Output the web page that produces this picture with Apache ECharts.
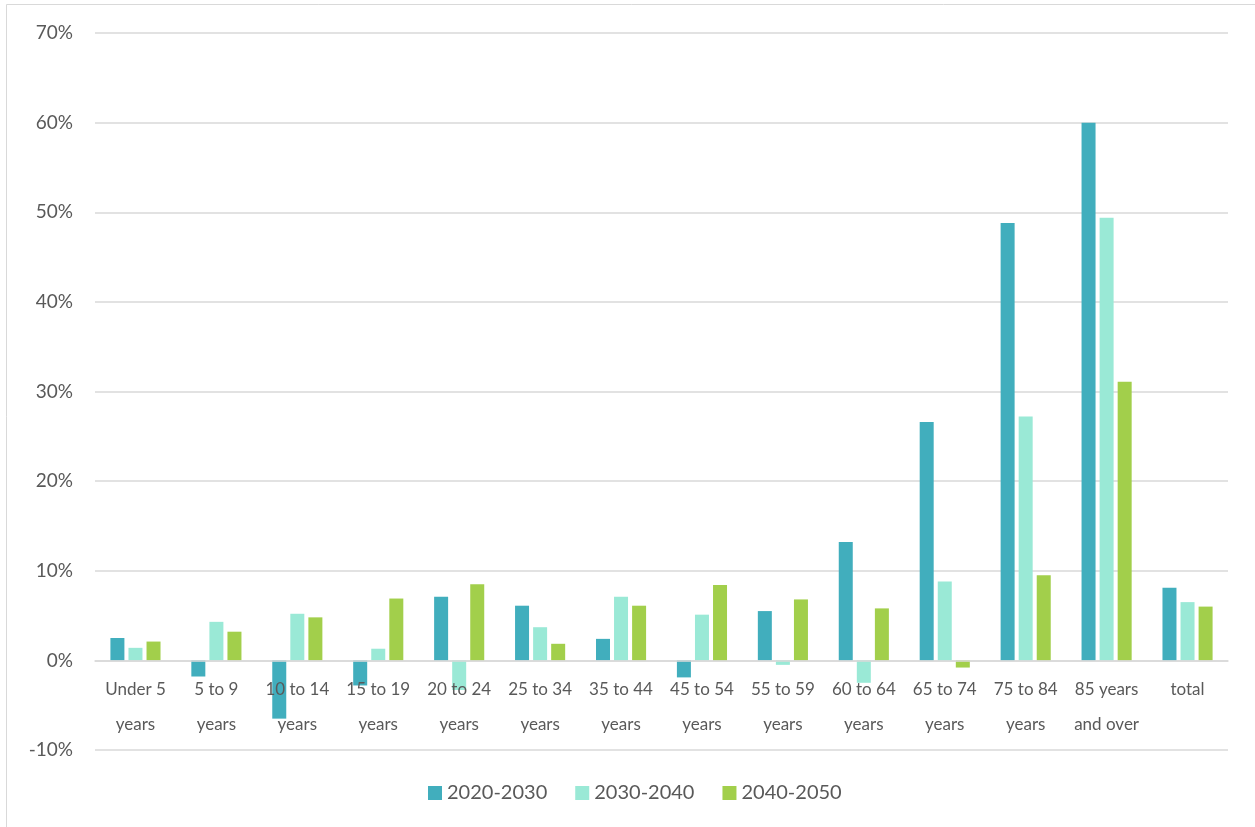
<!DOCTYPE html>
<html>
<head>
<meta charset="utf-8">
<script src="https://cdn.jsdelivr.net/npm/echarts@6/dist/echarts.min.js"></script>
<style>
  html, body { margin: 0; padding: 0; background: #fff; }
  #chart { width: 1255px; height: 827px; }
</style>
</head>
<body>
<div id="chart"></div>
<script>
// Age groups (two-line axis labels)
const categories = [
  'Under 5\nyears', '5 to 9\nyears', '10 to 14\nyears', '15 to 19\nyears',
  '20 to 24\nyears', '25 to 34\nyears', '35 to 44\nyears', '45 to 54\nyears',
  '55 to 59\nyears', '60 to 64\nyears', '65 to 74\nyears', '75 to 84\nyears',
  '85 years\nand over', 'total'
];

// Percentage change per decade
const change2020_2030 = [2.5, -1.8, -6.5, -2.8, 7.1, 6.1, 2.4, -1.9, 5.5, 13.2, 26.6, 48.8, 60.0, 8.1];
const change2030_2040 = [1.4, 4.3, 5.2, 1.3, -3.3, 3.7, 7.1, 5.1, -0.5, -2.5, 8.8, 27.2, 49.4, 6.5];
const change2040_2050 = [2.1, 3.2, 4.8, 6.9, 8.5, 1.85, 6.1, 8.4, 6.8, 5.8, -0.8, 9.5, 31.1, 6.0];

const seriesNames = ['2020-2030', '2030-2040', '2040-2050'];
const colors = ['#41AEBD', '#9AE9D6', '#A2CF4B'];

// Value axis range
const yMin = -10;
const yMax = 70;
const yStep = 10;

const textColor = '#595959';
const fontFamily = 'Lato, "Open Sans", sans-serif';

const chartHeight = 827;
const gridTop = 33;
const gridBottom = 77;
// distance from the bottom of the plot to the zero line, so the category axis sits at 0%
const plotHeight = chartHeight - gridTop - gridBottom;
const zeroOffset = plotHeight * (0 - yMin) / (yMax - yMin);

const chart = echarts.init(document.getElementById('chart'), null, { renderer: 'canvas' });

const makeSeries = (name, data, color) => ({
  name,
  type: 'bar',
  data,
  barWidth: 14,
  barGap: '29%',
  itemStyle: { color },
  emphasis: { disabled: true }
});

chart.setOption({
  animation: false,
  backgroundColor: '#ffffff',
  textStyle: { fontFamily },
  graphic: [{
    type: 'rect',
    shape: { x: 6.5, y: 4.5, width: 1260, height: 830 },
    style: { fill: 'none', stroke: '#d9d9d9', lineWidth: 1 },
    silent: true
  }],
  grid: {
    left: 95, right: 27, top: gridTop, bottom: gridBottom,
    containLabel: false,
    outerBoundsMode: 'none'
  },
  legend: {
    data: seriesNames,
    left: 423,
    top: 778,
    itemWidth: 14,
    itemHeight: 14,
    itemGap: 28,
    icon: 'rect',
    textStyle: { color: textColor, fontSize: 20, fontFamily }
  },
  xAxis: {
    type: 'category',
    data: categories,
    position: 'bottom',
    offset: -zeroOffset,
    z: 5,
    axisLine: { show: true, onZero: false, lineStyle: { color: '#d9d9d9', width: 1.5 } },
    axisTick: { show: false },
    axisLabel: {
      interval: 0,
      color: textColor,
      fontSize: 17,
      lineHeight: 35,
      margin: 12,
      fontFamily
    }
  },
  yAxis: {
    type: 'value',
    min: yMin,
    max: yMax,
    interval: yStep,
    axisLine: { show: false },
    axisTick: { show: false },
    splitLine: { lineStyle: { color: '#d9d9d9', width: 1.5 } },
    axisLabel: {
      formatter: '{value}%',
      color: textColor,
      fontSize: 19,
      margin: 22,
      fontFamily
    }
  },
  series: [
    makeSeries(seriesNames[0], change2020_2030, colors[0]),
    makeSeries(seriesNames[1], change2030_2040, colors[1]),
    makeSeries(seriesNames[2], change2040_2050, colors[2])
  ]
});
</script>
</body>
</html>
